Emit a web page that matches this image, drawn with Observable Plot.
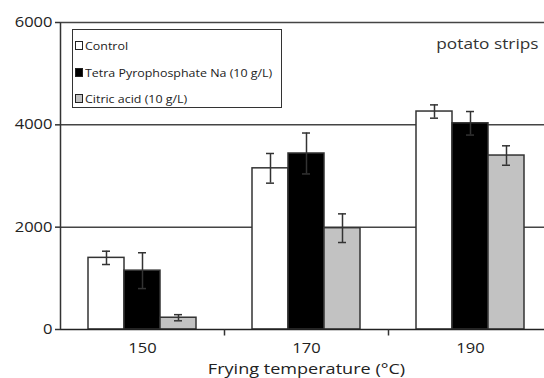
<!DOCTYPE html>
<html><head><meta charset="utf-8">
<script src="https://cdn.jsdelivr.net/npm/d3@7"></script>
<script src="https://cdn.jsdelivr.net/npm/@observablehq/plot@0.6"></script>
<style>
html,body{margin:0;padding:0;background:#fff;overflow:hidden;}
#wrap{position:relative;width:544px;height:378px;overflow:hidden;}
#chart svg{max-width:none !important;display:block;}
#legend{position:absolute;left:72px;top:29px;width:208px;height:77px;border:1.5px solid #333;font-family:"Open Sans";font-size:11px;color:#222;background:#fff;}
.item{position:absolute;left:2px;height:14px;display:flex;align-items:center;white-space:nowrap;}
.sw{width:6px;height:7px;border:1px solid #222;margin-right:2px;box-sizing:content-box;flex:none;}
.lt{display:inline-block;transform:scaleX(1.13);transform-origin:left center;}
</style></head><body><div id="wrap"><div id="chart"></div><div id="legend"></div></div>
<script>
const temperatures = ["150", "170", "190"];
const series = ["Control", "Tetra Pyrophosphate Na (10 g/L)", "Citric acid (10 g/L)"];
const control = [1400, 3150, 4260];
const controlErr = [130, 290, 130];
const tetra = [1150, 3440, 4030];
const tetraErr = [350, 400, 230];
const citric = [230, 1980, 3400];
const citricErr = [60, 280, 190];
const yTicks = [0, 2000, 4000, 6000];
const gridValues = [2000, 4000];
const fills = ["#ffffff", "#000000", "#c2c2c2"];
const xLabel = "Frying temperature (°C)";
const note = "potato strips";

const values = [control, tetra, citric];
const errs = [controlErr, tetraErr, citricErr];
const rows = temperatures.flatMap((t, i) => series.map((s, j) => ({
  temp: t, series: s, value: values[j][i], err: errs[j][i]
})));

const lineSym = (len) => ({draw(ctx) { ctx.moveTo(0, 0); ctx.lineTo(0, len); }});

const chart = Plot.plot({
  width: 552, height: 378,
  marginLeft: 59, marginRight: 0, marginTop: 22, marginBottom: 49,
  style: {fontFamily: "Open Sans", fontSize: "14px", color: "#222", background: "transparent", maxWidth: "none"},
  fx: {domain: temperatures, padding: 0, axis: "bottom", tickSize: 0, tickPadding: 14,
       label: xLabel, labelAnchor: "center", labelOffset: 44},
  x: {domain: series, paddingInner: 0, paddingOuter: 0.74, axis: null},
  y: {domain: [0, 6000], label: null},
  color: {domain: series, range: fills},
  marks: [
    Plot.ruleY(gridValues, {stroke: "#444", strokeWidth: 1.5}),
    Plot.ruleY([6000], {stroke: "#444", strokeWidth: 1.5}),
    Plot.barY(rows, {fx: "temp", x: "series", y: "value", fill: "series", stroke: "#333", strokeWidth: 1.5}),
    Plot.ruleX(rows, {fx: "temp", x: "series", y1: d => d.value - d.err, y2: d => d.value + d.err, stroke: "#333", strokeWidth: 1.5}),
    Plot.tickY(rows, {fx: "temp", x: "series", y: d => d.value + d.err, stroke: "#333", strokeWidth: 1.5, insetLeft: 14, insetRight: 14}),
    Plot.tickY(rows, {fx: "temp", x: "series", y: d => d.value - d.err, stroke: "#333", strokeWidth: 1.5, insetLeft: 14, insetRight: 14}),
    Plot.ruleY([0], {stroke: "#222", strokeWidth: 1.5}),
    Plot.dot(temperatures.slice(0, 1), {fx: d => d, frameAnchor: "bottom-left", symbol: lineSym(-307), fill: "none", stroke: "#333", strokeWidth: 1.5}),
    Plot.dot(temperatures.slice(0, 2), {fx: d => d, frameAnchor: "bottom-right", symbol: lineSym(6), fill: "none", stroke: "#333", strokeWidth: 1.5}),
    Plot.axisY(yTicks, {tickSize: 5, tickPadding: 3, tickFormat: d3.format("d"), stroke: "#333", strokeWidth: 1.5, fontSize: 14}),
    Plot.text([note], {fx: () => temperatures[2], text: d => d, frameAnchor: "top-right", dx: -14, dy: 16, fontSize: 15, fill: "#333"})
  ]
});
document.getElementById("chart").appendChild(chart);

// the reference lettering is wide: stretch the glyphs horizontally
function stretch(selector, k) {
  chart.querySelectorAll(selector).forEach(el => {
    const w = el.getComputedTextLength();
    if (w > 0) {
      el.setAttribute("textLength", (w * k).toFixed(1));
      el.setAttribute("lengthAdjust", "spacingAndGlyphs");
    }
  });
}
stretch('g[aria-label="y-axis tick label"] text', 1.18);
stretch('g[aria-label="fx-axis tick label"] text', 1.18);
stretch('g[aria-label="fx-axis label"] text', 1.29);
stretch('g[aria-label="text"] text', 1.15);

const legend = document.getElementById("legend");
const rowTops = [8, 35, 61];
series.forEach((s, j) => {
  const item = document.createElement("div");
  item.className = "item";
  item.style.top = rowTops[j] + "px";
  const sw = document.createElement("span");
  sw.className = "sw";
  sw.style.background = fills[j];
  const tx = document.createElement("span");
  tx.className = "lt";
  tx.textContent = s;
  item.appendChild(sw); item.appendChild(tx);
  legend.appendChild(item);
});
</script></body></html>
